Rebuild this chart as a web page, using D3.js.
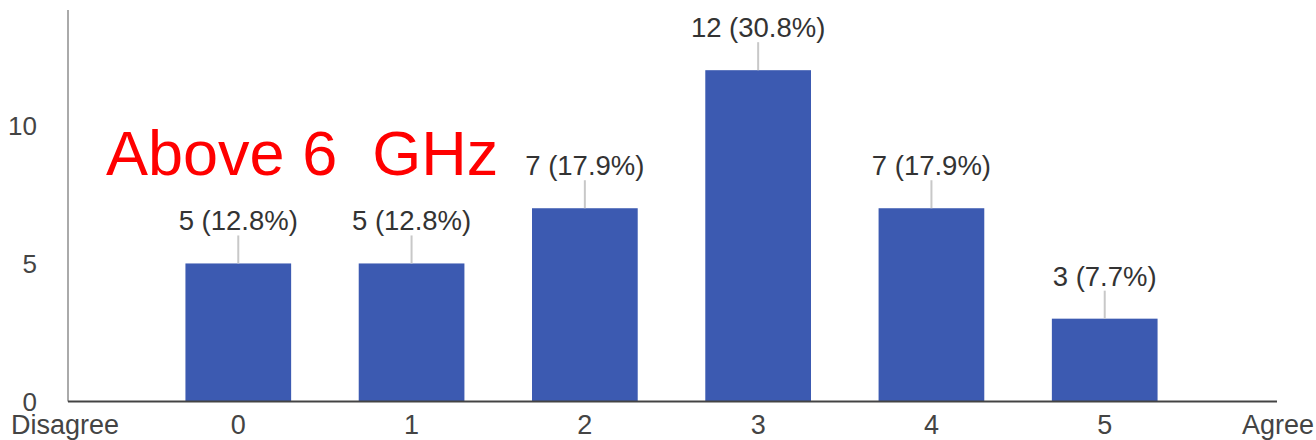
<!DOCTYPE html>
<html><head><meta charset="utf-8">
<script src="https://cdn.jsdelivr.net/npm/d3@7/dist/d3.min.js"></script>
<style>body{margin:0;background:#fff}svg{display:block}text{font-family:"Liberation Sans",Arial,sans-serif}</style>
</head><body>
<script>
const axisLabels = ["Disagree","0","1","2","3","4","5","Agree"];
const categories = ["0","1","2","3","4","5"];
const counts = [5,5,7,12,7,3];
const percents = ["12.8%","12.8%","17.9%","30.8%","17.9%","7.7%"];
const yTicks = [0,5,10];
const title = "Above 6  GHz";

const W=1316,H=440;
const svg=d3.select("body").append("svg").attr("width",W).attr("height",H);
const x=d3.scalePoint().domain(axisLabels).range([65,1278]);
const y=d3.scaleLinear().domain([0,14.18]).range([401.5,10]);
const bw=x.step()*0.61;

// y axis line
svg.append("line").attr("x1",68).attr("x2",68).attr("y1",y(14.18)).attr("y2",y(0))
  .attr("stroke","#aaa").attr("stroke-width",2);

// y tick labels
svg.selectAll(".yt").data(yTicks).enter().append("text")
  .attr("x",37).attr("y",d=>y(d)+9.5).attr("text-anchor","end")
  .attr("font-size",26).attr("fill","#444").text(d=>d);

// bars
svg.selectAll(".bar").data(categories).enter().append("rect")
  .attr("x",(d)=>x(d)-bw/2).attr("width",bw)
  .attr("y",(d,i)=>y(counts[i])).attr("height",(d,i)=>y(0)-y(counts[i]))
  .attr("fill","#3c5ab1");

// leader lines
svg.selectAll(".lead").data(categories).enter().append("line")
  .attr("x1",d=>x(d)).attr("x2",d=>x(d))
  .attr("y1",(d,i)=>y(counts[i])).attr("y2",(d,i)=>y(counts[i])-28)
  .attr("stroke","#c8c8c8").attr("stroke-width",2);

// value labels
svg.selectAll(".val").data(categories).enter().append("text")
  .attr("x",d=>x(d)).attr("y",(d,i)=>y(counts[i])-33)
  .attr("text-anchor","middle").attr("font-size",27.5).attr("fill","#333")
  .text((d,i)=>`${counts[i]} (${percents[i]})`);

// x axis line
svg.append("line").attr("x1",68).attr("x2",1277).attr("y1",y(0)).attr("y2",y(0))
  .attr("stroke","#444").attr("stroke-width",2);

// x tick labels
svg.selectAll(".xt").data(axisLabels).enter().append("text")
  .attr("x",d=>x(d)).attr("y",434).attr("text-anchor","middle")
  .attr("font-size",27).attr("fill","#444").text(d=>d);

// title annotation
svg.append("text").attr("x",106).attr("y",175).attr("font-size",63)
  .attr("fill","#ff0000").style("white-space","pre").text(title);
</script>
</body></html>
